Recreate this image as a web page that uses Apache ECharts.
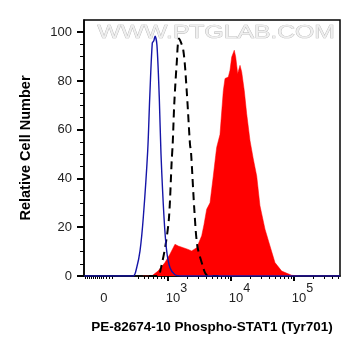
<!DOCTYPE html>
<html><head><meta charset="utf-8">
<script src="https://cdn.jsdelivr.net/npm/echarts@6/dist/echarts.min.js"></script>
<style>html,body{margin:0;padding:0;background:#fff}#c{width:361px;height:356px}</style>
</head><body><div id="c"></div>
<script>
// x positions are in display decades of the biexponential axis (3 = 10^3, 4 = 10^4 ...)
const controlT     = [1.67, 2.30, 2.449, 2.503, 2.556, 2.608, 2.678, 2.710, 2.751, 2.775, 2.794, 2.825, 2.862, 2.889, 2.937, 2.979, 3.032, 3.111, 3.222, 5.73];
const controlCount = [0,    0,    0,     3.4,   10.3,  24,    51.4,  73,    95.6,  96.5,  98.4,  94.6,  73,    50,    24,    10.3,  3.4,   0.5,   0,     0];

const untreatedT     = [2.70, 2.841, 2.889, 2.963, 3.016, 3.059, 3.075, 3.100, 3.138, 3.175, 3.243, 3.297, 3.349, 3.365, 3.421, 3.468, 3.560, 3.587, 3.635, 3.80];
const untreatedCount = [0,    0,     3.4,   13,    24,    47.3,  54.3,  70.8,  87,    97.4,  92.6,  76,    54,    51,    26,    12,    3.4,   1.4,   0,     0];

const treatedT     = [2.60, 2.741, 2.841, 2.952, 3.032, 3.111, 3.163, 3.243, 3.310, 3.376, 3.456, 3.481, 3.535, 3.571, 3.614, 3.667, 3.719, 3.757, 3.773, 3.825, 3.878, 3.905, 3.957, 3.984, 4.011, 4.052, 4.075, 4.106, 4.143, 4.170, 4.211, 4.249, 4.302, 4.354, 4.408, 4.460, 4.540, 4.619, 4.698, 4.805, 4.963, 5.095, 5.73];
const treatedCount = [0,    0,     2,     5.5,   9,     13,    12.3,  11.6,  11,    10.3,  11.6,  12.3,  16.5,  21,    27.4,  30,    41,    49.4,  52.8,  58,    76,    81,    81.6,  84.4,  89.8,  92.6,  89.8,  83,    86.4,  83.7,  76,    66.5,  55.5,  48,    41,    28.8,  19.2,  12.3,  5.5,   2,     0.3,   0,     0];

const xLabelValues = [1.984, 3, 4, 5];
const xLabelBase   = ['0', '10', '10', '10'];
const xLabelExp    = ['', '3', '4', '5'];
const xMajorTicks  = [3, 4, 5];
const xNearZeroTicks = [1.683, 1.714, 1.746, 1.778, 1.810, 1.841, 1.873, 1.905, 1.937, 1.968, 2.016, 2.063, 2.111, 2.524, 2.619, 2.683, 2.762, 2.825, 2.889, 2.937];
const xMin = 1.667, xMax = 5.73;
const yTicks = [0, 20, 40, 60, 80, 100];

const minorLog = [];
[3, 4, 5].forEach(d => { for (let k = 2; k <= 9; k++) { const v = d + Math.log10(k); if (v <= xMax) minorLog.push(v); } });
const xMinorTicks = xNearZeroTicks.concat(minorLog);

const zip = (a, b) => a.map((v, i) => [v, b[i]]);

const chart = echarts.init(document.getElementById('c'), null, {renderer: 'canvas'});
const font = 'Arial, "Liberation Sans", sans-serif';
chart.setOption({
  animation: false,
  grid: {left: 84, right: 21, top: 20, bottom: 80, show: true, borderColor: '#000', borderWidth: 1.5, backgroundColor: 'transparent'},
  graphic: [{
    type: 'text', left: 97, top: 23, z: 0, scaleX: 1.3,
    style: {text: 'WWW.PTGLAB.COM', fontSize: 19, fontFamily: font, fill: '#efefef', stroke: '#b5b5b5', lineWidth: 0.7}
  }],
  xAxis: [{
    type: 'value', min: xMin, max: xMax, position: 'bottom',
    name: 'PE-82674-10 Phospho-STAT1 (Tyr701)', nameLocation: 'middle', nameGap: 44,
    nameTextStyle: {fontFamily: font, fontWeight: 'bold', fontSize: 13.5, color: '#000'},
    axisLine: {show: true, lineStyle: {color: '#000', width: 1.5}},
    splitLine: {show: false},
    axisTick: {show: true, customValues: xMajorTicks, length: 5, lineStyle: {color: '#000', width: 2}},
    axisLabel: {
      customValues: xLabelValues, margin: 6, color: '#222', fontFamily: font,
      formatter: function (v) {
        const i = xLabelValues.findIndex(x => Math.abs(x - v) < 1e-6);
        if (i < 0) return '';
        if (!xLabelExp[i]) return '{z|' + xLabelBase[i] + '}';
        return '{a|' + xLabelBase[i] + '}{s|' + xLabelExp[i] + '}';
      },
      rich: {
        z: {fontSize: 13, fontFamily: font, color: '#222', padding: [10, 0, 0, 0], verticalAlign: 'bottom'},
        a: {fontSize: 13, fontFamily: font, color: '#222', padding: [10, 0, 0, 17], verticalAlign: 'bottom'},
        s: {fontSize: 12.5, lineHeight: 12, fontFamily: font, color: '#222', verticalAlign: 'top'}
      }
    }
  }, {
    type: 'value', min: xMin, max: xMax, position: 'bottom', gridIndex: 0,
    axisLine: {show: false}, splitLine: {show: false}, axisLabel: {show: false},
    axisTick: {show: true, customValues: xMinorTicks, length: 3, lineStyle: {color: '#000', width: 1}}
  }],
  yAxis: {
    type: 'value', min: 0, max: 105, interval: 20,
    name: 'Relative Cell Number', nameLocation: 'middle', nameGap: 51,
    nameTextStyle: {fontFamily: font, fontWeight: 'bold', fontSize: 14.5, color: '#000'},
    axisLine: {show: true, lineStyle: {color: '#000', width: 1.5}},
    splitLine: {show: false},
    axisTick: {show: true, customValues: yTicks, length: 7, lineStyle: {color: '#000', width: 2}},
    minorTick: {show: true, splitNumber: 4, length: 4, lineStyle: {color: '#000', width: 1}},
    axisLabel: {customValues: yTicks, margin: 12, fontSize: 13, fontFamily: font, color: '#222'}
  },
  series: [{
    type: 'line', data: zip(treatedT, treatedCount), showSymbol: false, symbol: 'none',
    lineStyle: {width: 0.5, color: '#ff0000'}, areaStyle: {color: '#ff0000', opacity: 1}, z: 2
  }, {
    type: 'line', data: zip(untreatedT, untreatedCount), showSymbol: false, symbol: 'none', smooth: 0.3,
    lineStyle: {width: 2, color: '#000', type: [8, 5]}, z: 3
  }, {
    type: 'line', data: zip(controlT, controlCount), showSymbol: false, symbol: 'none', smooth: 0.3,
    lineStyle: {width: 1.4, color: '#1515a8'}, z: 4
  }]
});
</script></body></html>
